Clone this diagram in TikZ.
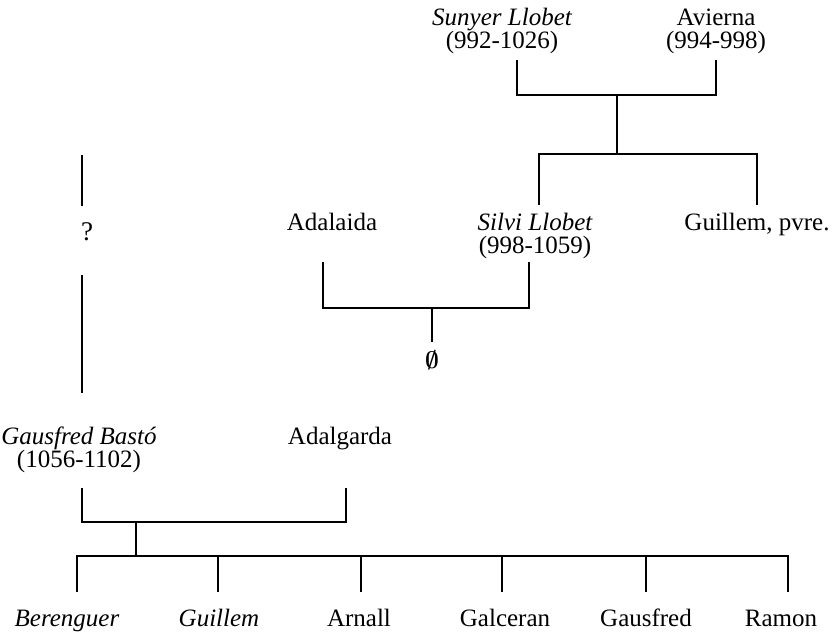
\documentclass[tikz,border=0pt]{standalone}
\usepackage{fontspec}
\setmainfont{Liberation Serif}
\usetikzlibrary{positioning}
\begin{document}
\begin{tikzpicture}[x=0.5pt,y=-0.5pt,line cap=butt,line width=0.6pt]
			\tikzset{every node/.style={inner sep=0pt,anchor=base,font=\fontsize{12.5}{15}\selectfont},
				nm/.style={font=\fontsize{12.5}{15}\selectfont\itshape},
				bd/.style={anchor=center,font=\boldmath\fontsize{12.5}{15}\selectfont}}
			\useasboundingbox (0,0) rectangle (833,634);
			% first generation
			\node[nm] (sunyer) at (502,25) {Sunyer Llobet};
			\node (sunyerd) at ([yshift=-11.75pt]sunyer.base) {(992-1026)};
			\node (avierna) at (716,25) {Avierna};
			\node (aviernad) at ([yshift=-11.75pt]avierna.base) {(994-998)};
			\draw (517,60) |- (716,95) -- (716,60);
			\coordinate (j1) at (617,95);
			\coordinate (j2) at (617,154);
			\draw (j1) -- (j2);
			\draw (539,205) |- (757,154) -- (757,205);
			% second generation
			\node[font=\fontsize{13.5}{15}\selectfont] (unk) at (87,240) {?};
			\draw (82,155)--(82,206);
			\draw (82,275)--(82,393);
			\node (adalaida) at (332,230) {Adalaida};
			\node[nm] (silvi) at (535,230) {Silvi Llobet};
			\node (silvid) at ([yshift=-11.75pt]silvi.base) {(998-1059)};
			\node (guillemp) at (757,230) {Guillem, pvre.};
			\draw (323,262) |- (529,308) -- (529,262);
			\coordinate (j3) at (432,308);
			\node[bd] (none) at (432,360) {$\emptyset$};
			\draw (j3) -- (432,342);
			% third generation
			\node[nm] (gausbasto) at (79,444) {Gausfred Bastó};
			\node (gausbastod) at ([yshift=-11.75pt]gausbasto.base) {(1056-1102)};
			\node (adalgarda) at (340,444) {Adalgarda};
			\draw (82,488) |- (346,522) -- (346,488);
			\coordinate (j4) at (136,522);
			\coordinate (j5) at (136,556);
			\draw (j4) -- (j5);
			\draw (77,592) |- (788,556) -- (788,592);
			\foreach \x in {218,361,502,646}
				\draw (\x,556)--(\x,592);
			% children
			\node[nm] (berenguer) at (67,626) {Berenguer};
			\node[nm] (guillem) at (219,626) {Guillem};
			\node (arnall) at (359,626) {Arnall};
			\node (galceran) at (505,626) {Galceran};
			\node (gausfred) at (646,626) {Gausfred};
			\node (ramon) at (781,626) {Ramon};
\end{tikzpicture}
\end{document}
